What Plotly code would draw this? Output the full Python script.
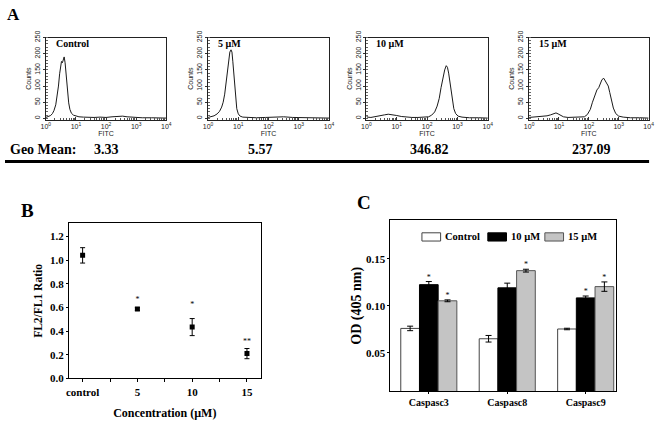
import plotly.graph_objects as go

# ---------------- Panel A : flow cytometry histograms ----------------
ctrl_fitc = [1.0, 1.2, 1.45, 1.66, 1.86, 2.14, 2.4, 2.63, 2.88, 3.09, 3.31, 3.55, 3.8, 4.07, 4.37, 4.68,
             5.01, 5.37, 5.75, 6.31, 7.08, 8.32, 10, 12.6, 17.8, 25, 40, 63, 100, 158, 251, 355, 500,
             794, 1585, 3162, 10000]
ctrl_cnt = [3, 5, 9, 15, 24, 42, 68, 100, 138, 165, 176, 172, 184, 190, 172, 140,
            108, 75, 48, 28, 16, 10, 7, 5, 4, 3, 3, 4, 3, 5, 6, 7, 5,
            3, 2, 2, 1]

m5_fitc = [1.0, 1.26, 1.58, 2.0, 2.4, 2.82, 3.16, 3.55, 3.98, 4.37, 4.79, 5.25, 5.75, 6.17, 6.61, 7.08,
           7.59, 8.13, 8.91, 10, 11.5, 14.1, 20, 40, 79, 158, 316, 631, 1259, 3162, 10000]
m5_cnt = [3, 5, 8, 14, 22, 35, 50, 75, 115, 155, 190, 205, 212, 205, 175, 135,
          95, 60, 30, 14, 7, 4, 3, 2, 3, 4, 5, 3, 2, 2, 1]

m10_fitc = [1.0, 1.07, 1.41, 2.0, 2.82, 3.98, 5.25, 7.08, 10, 14.1, 20, 31.6, 50, 79, 112, 141, 178,
            214, 251, 288, 331, 380, 427, 468, 513, 562, 617, 676, 759, 871, 1047, 1413, 2512,
            5012, 10000]
m10_cnt = [10, 4, 3, 5, 8, 11, 13, 12, 9, 6, 4, 3, 3, 3, 5, 10, 20,
           38, 62, 95, 125, 150, 163, 158, 140, 112, 80, 52, 30, 15, 7, 4, 2,
           2, 1]

m15_fitc = [1.0, 1.41, 2.0, 2.82, 3.98, 5.25, 6.61, 7.94, 9.33, 11.2, 14.1, 20, 31.6, 50, 70.8, 89,
            112, 132, 158, 186, 214, 240, 275, 316, 355, 398, 447, 501, 575, 661, 794, 1000,
            1413, 2512, 5012, 10000]
m15_cnt = [3, 4, 5, 6, 8, 11, 15, 17, 14, 9, 5, 3, 3, 3, 5, 12,
           28, 50, 70, 88, 95, 108, 120, 124, 117, 110, 100, 80, 55, 32, 15, 7,
           4, 2, 2, 1]

hist_labels = ["Control", "5 \u00b5M", "10 \u00b5M", "15 \u00b5M"]
geo_means = ["3.33", "5.57", "346.82", "237.09"]
fitc_ticks = [1, 10, 100, 1000, 10000]
fitc_ticktext = ["10<sup>0</sup>", "10<sup>1</sup>", "10<sup>2</sup>", "10<sup>3</sup>", "10<sup>4</sup>"]
count_ticks = [0, 50, 100, 150, 200, 250]

# ---------------- Panel B : FL2/FL1 ratio ----------------
conc_labels = ["control", "5", "10", "15"]
ratio = [1.04, 0.586, 0.434, 0.21]
ratio_err = [0.065, 0.012, 0.072, 0.043]
ratio_sig = ["", "*", "*", "**"]
ratio_sig_y = [0, 0.663, 0.619, 0.305]
ratio_ticks = [0.0, 0.2, 0.4, 0.6, 0.8, 1.0, 1.2]

# ---------------- Panel C : caspase activity ----------------
caspases = ["Caspasc3", "Caspasc8", "Caspasc9"]
groups = ["Control", "10 \u00b5M", "15 \u00b5M"]
od_control = [0.0758, 0.0648, 0.0752]
od_control_err = [0.0024, 0.0035, 0.0008]
od_10 = [0.1224, 0.119, 0.1083]
od_10_err = [0.0033, 0.005, 0.002]
od_15 = [0.1052, 0.1373, 0.1203]
od_15_err = [0.001, 0.0015, 0.005]
sig_control = [0, 0, 0]
sig_10 = [1, 0, 1]
sig_15 = [1, 1, 1]
od_ticks = [0.05, 0.10, 0.15]

# ---------------- layout helpers ----------------
W, H = 660, 421


def px(x):
    return x / W


def py(y):
    return 1 - y / H


SERIF = "Liberation Serif"
SANS = "Liberation Sans"

fig = go.Figure()
layout = {}

hist_x = [ctrl_fitc, m5_fitc, m10_fitc, m15_fitc]
hist_y = [ctrl_cnt, m5_cnt, m10_cnt, m15_cnt]
boxes = [(41.5, 164.0), (206.5, 329.5), (367.5, 491.0), (533.0, 654.5)]
centers_geo = [103, 260, 432, 596]
a_top, a_bot = 31.5, 116.3

annotations = []
shapes = []

for i in range(4):
    n = i + 1
    xs = "x" if n == 1 else f"x{n}"
    ys = "y" if n == 1 else f"y{n}"
    xk = "xaxis" if n == 1 else f"xaxis{n}"
    yk = "yaxis" if n == 1 else f"yaxis{n}"
    fig.add_trace(go.Scatter(x=hist_x[i], y=hist_y[i], mode="lines",
                             line=dict(color="#1a1a1a", width=1),
                             xaxis=xs, yaxis=ys, showlegend=False, hoverinfo="skip"))
    l, r = boxes[i]
    layout[xk] = dict(domain=[px(l), px(r)], anchor=ys, type="log", range=[0, 4],
                      tickmode="array", tickvals=fitc_ticks, ticktext=fitc_ticktext,
                      ticks="inside", ticklen=3, tickcolor="#333",
                      minor=dict(ticks="inside", ticklen=2, dtick="D1", tickcolor="#555"),
                      showline=True, mirror=True, linecolor="#222", linewidth=1,
                      showgrid=False, zeroline=False,
                      tickfont=dict(family=SANS, size=7, color="#222"),
                      title=dict(text="FITC", font=dict(family=SANS, size=7, color="#222"), standoff=0))
    layout[yk] = dict(domain=[py(a_bot), py(a_top)], anchor=xs, range=[-4, 250],
                      tickmode="array", tickvals=count_ticks, tickangle=-90,
                      ticks="outside", ticklen=2, tickcolor="#333",
                      minor=dict(ticks="inside", ticklen=2, dtick=10, tickcolor="#666"),
                      showline=True, mirror=True, linecolor="#222", linewidth=1,
                      showgrid=False, zeroline=False,
                      tickfont=dict(family=SANS, size=7, color="#222"),
                      title=dict(text="Counts", font=dict(family=SANS, size=7, color="#222"), standoff=1))
    annotations.append(dict(text=hist_labels[i], xref=f"{xs} domain", yref=f"{ys} domain",
                            x=0.065, y=0.93, xanchor="left", yanchor="middle", showarrow=False,
                            font=dict(family=SERIF, size=10, color="#000", weight="bold")))
    annotations.append(dict(text=geo_means[i], xref="paper", yref="paper",
                            x=px(centers_geo[i]), y=py(147), xanchor="center", yanchor="middle",
                            showarrow=False,
                            font=dict(family=SERIF, size=14, color="#000", weight="bold")))

annotations.append(dict(text="Geo Mean:", xref="paper", yref="paper", x=px(3), y=py(147),
                        xanchor="left", yanchor="middle", showarrow=False,
                        font=dict(family=SERIF, size=14, color="#000", weight="bold")))
shapes.append(dict(type="line", xref="paper", yref="paper", x0=0, x1=px(655),
                   y0=py(159.5), y1=py(159.5), line=dict(color="#000", width=3)))

# Panel letters
for txt, (lx, ly, fs) in zip(["A", "B", "C"], [(9, 8, 17), (22.5, 210, 19), (365, 201.5, 19)]):
    annotations.append(dict(text=txt, xref="paper", yref="paper", x=px(lx), y=py(ly),
                            xanchor="center", yanchor="middle", showarrow=False,
                            font=dict(family=SERIF, size=fs, color="#000", weight="bold")))

# ---------------- Panel B ----------------
fig.add_trace(go.Scatter(x=list(range(len(ratio))), y=ratio, mode="markers",
                         marker=dict(symbol="square", size=5, color="#000"),
                         error_y=dict(type="data", array=ratio_err, visible=True,
                                      color="#000", thickness=1, width=2.5),
                         xaxis="x5", yaxis="y5", showlegend=False))
fig.add_trace(go.Scatter(x=[i for i, s in enumerate(ratio_sig) if s],
                         y=[ratio_sig_y[i] for i, s in enumerate(ratio_sig) if s],
                         text=[s for s in ratio_sig if s], mode="text",
                         textfont=dict(family=SERIF, size=8, color="#000"),
                         textposition="middle center",
                         xaxis="x5", yaxis="y5", showlegend=False))
b_ticks = [0, 0.5, 1, 1.5, 2, 2.5, 3]
b_text = ["control", "", "5", "", "10", "", "15"]
layout["xaxis5"] = dict(domain=[px(65), px(260)], anchor="y5", range=[-0.25, 3.25],
                        tickmode="array", tickvals=b_ticks, ticktext=b_text,
                        ticks="outside", ticklen=3, tickcolor="#000",
                        showline=True, mirror=True, linecolor="#000", linewidth=1,
                        showgrid=False, zeroline=False,
                        tickfont=dict(family=SERIF, size=11, color="#000", weight="bold"),
                        title=dict(text="Concentration (\u00b5M)", standoff=11,
                                   font=dict(family=SERIF, size=12, color="#000", weight="bold")))
layout["yaxis5"] = dict(domain=[py(383.3), py(223.3)], anchor="x5", range=[0, 1.31],
                        tickmode="array", tickvals=ratio_ticks,
                        ticktext=[f"{v:.1f}" for v in ratio_ticks],
                        ticks="outside", ticklen=2, tickcolor="#000",
                        showline=True, mirror=True, linecolor="#000", linewidth=1,
                        showgrid=False, zeroline=False,
                        tickfont=dict(family=SERIF, size=11, color="#000", weight="bold"),
                        title=dict(text="FL2/FL1 Ratio", standoff=4,
                                   font=dict(family=SERIF, size=11.5, color="#000", weight="bold")))

# ---------------- Panel C ----------------
bargap = 0.285
bar_w = (1 - bargap) / 3
c_vals = [od_control, od_10, od_15]
c_errs = [od_control_err, od_10_err, od_15_err]
c_sigs = [sig_control, sig_10, sig_15]
c_fill = ["#ffffff", "#000000", "#c4c4c4"]
c_line = ["#444444", "#000000", "#555555"]
xc = list(range(len(caspases)))
for k in range(3):
    fig.add_trace(go.Bar(x=xc, y=c_vals[k], name=groups[k],
                         marker=dict(color=c_fill[k], line=dict(color=c_line[k], width=1)),
                         error_y=dict(type="data", array=c_errs[k], visible=True,
                                      color="#000", thickness=1, width=3),
                         xaxis="x6", yaxis="y6", showlegend=False))
for k in range(3):
    sx = [i + (k - 1) * bar_w for i in xc if c_sigs[k][i]]
    sy = [c_vals[k][i] + c_errs[k][i] for i in xc if c_sigs[k][i]]
    if sx:
        fig.add_trace(go.Scatter(x=sx, y=sy, mode="text", text=["*"] * len(sx),
                                 textposition="top center",
                                 textfont=dict(family=SERIF, size=8, color="#000"),
                                 xaxis="x6", yaxis="y6", showlegend=False))
layout["xaxis6"] = dict(domain=[px(392), px(621)], anchor="y6", range=[-0.489, 2.382],
                        tickmode="array", tickvals=xc, ticktext=caspases,
                        ticks="outside", ticklen=2, tickcolor="#000",
                        showline=True, mirror=True, linecolor="#000", linewidth=1,
                        showgrid=False, zeroline=False,
                        tickfont=dict(family=SERIF, size=10, color="#000", weight="bold"))
layout["yaxis6"] = dict(domain=[py(396.7), py(220)], anchor="x6", range=[0.0087, 0.191],
                        tickmode="array", tickvals=od_ticks,
                        ticktext=[f"{v:.2f}" for v in od_ticks],
                        ticks="outside", ticklen=2, tickcolor="#000",
                        showline=True, mirror=True, linecolor="#000", linewidth=1,
                        showgrid=False, zeroline=False,
                        tickfont=dict(family=SERIF, size=11, color="#000", weight="bold"),
                        title=dict(text="OD (405 nm)", standoff=1,
                                   font=dict(family=SERIF, size=14, color="#000", weight="bold")))

# manual legend for panel C
leg_box_x = [424, 491, 549]
for k in range(3):
    x0 = leg_box_x[k]
    shapes.append(dict(type="rect", xref="paper", yref="paper",
                       x0=px(x0), x1=px(x0 + 19), y0=py(241.5), y1=py(233),
                       fillcolor=c_fill[k], line=dict(color=c_line[k] if k != 1 else "#000", width=1)))
    annotations.append(dict(text=groups[k], xref="paper", yref="paper", x=px(x0 + 21.5), y=py(237.3),
                            xanchor="left", yanchor="middle", showarrow=False,
                            font=dict(family=SERIF, size=10.5, color="#000", weight="bold")))

fig.update_layout(width=W, height=H, margin=dict(l=0, r=0, t=0, b=0), autosize=False,
                  paper_bgcolor="#ffffff", plot_bgcolor="#ffffff",
                  barmode="group", bargap=bargap, bargroupgap=0,
                  annotations=annotations, shapes=shapes, **layout)

fig.write_html("out.html", config={"displayModeBar": False},
               post_script="document.body.style.margin='0px';document.body.style.overflow='hidden';")
